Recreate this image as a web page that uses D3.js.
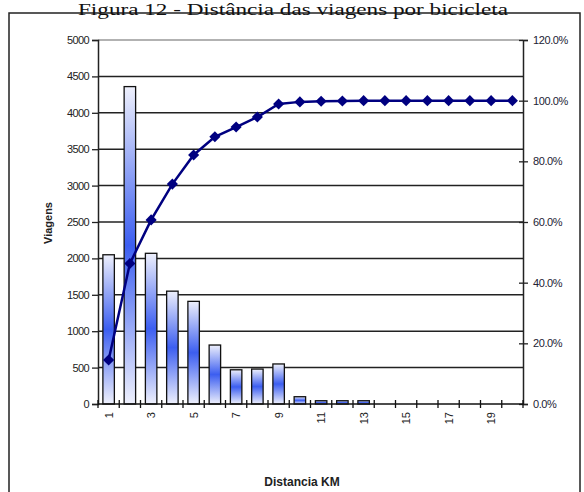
<!DOCTYPE html>
<html>
<head>
<meta charset="utf-8">
<script src="https://cdn.jsdelivr.net/npm/d3@7"></script>
<style>
  body { margin: 0; background: #fff; }
  text { font-family: Arial, "Liberation Sans", sans-serif; }
</style>
</head>
<body>
<script>
// Chart data
var distances = [1, 2, 3, 4, 5, 6, 7, 8, 9, 10, 11, 12, 13, 14, 15, 16, 17, 18, 19, 20];
var viagens = [2050, 4360, 2070, 1550, 1410, 810, 470, 480, 550, 100, 45, 45, 45, 0, 0, 0, 0, 0, 0, 0];
var acumulado = [14.5, 46.3, 60.7, 72.5, 82.1, 88.1, 91.3, 94.6, 98.9, 99.6, 99.8, 99.9, 100, 100, 100, 100, 100, 100, 100, 100];
var leftTicks = [0, 500, 1000, 1500, 2000, 2500, 3000, 3500, 4000, 4500, 5000];
var rightTicks = [0, 20, 40, 60, 80, 100, 120];
var xLabels = [1, 3, 5, 7, 9, 11, 13, 15, 17, 19];

var svgWidth = 584;
var svgHeight = 492;
var margin = { top: 40, right: 61, bottom: 88, left: 98 };
var width = svgWidth - margin.left - margin.right;
var height = svgHeight - margin.top - margin.bottom;

var svg = d3.select("body")
  .append("svg")
  .attr("width", svgWidth)
  .attr("height", svgHeight);

// gradient for the bars
var grad = svg.append("defs").append("linearGradient")
  .attr("id", "barGrad")
  .attr("x1", 0).attr("y1", 0).attr("x2", 0).attr("y2", 1);
grad.append("stop").attr("offset", "0%").attr("stop-color", "#eef0fc");
grad.append("stop").attr("offset", "50%").attr("stop-color", "#3c5ef0");
grad.append("stop").attr("offset", "100%").attr("stop-color", "#eef0fc");

// outer frame
svg.append("rect")
  .attr("x", 9).attr("y", 13)
  .attr("width", 571).attr("height", 500)
  .attr("fill", "none")
  .attr("stroke", "#222")
  .attr("stroke-width", 1.5);

// title
svg.append("text")
  .attr("x", 293)
  .attr("y", 15)
  .attr("text-anchor", "middle")
  .attr("textLength", 430)
  .attr("lengthAdjust", "spacingAndGlyphs")
  .style("font-family", "'Liberation Serif', 'Times New Roman', serif")
  .style("font-size", "16px")
  .attr("fill", "#111")
  .text("Figura 12 - Distância das viagens por bicicleta");

var chartGroup = svg.append("g")
  .attr("transform", `translate(${margin.left}, ${margin.top})`);

var x = d3.scaleBand().domain(distances).range([0, width]).paddingInner(0.46).paddingOuter(0.23);
var yLeft = d3.scaleLinear().domain([0, 5000]).range([height, 0]);
var yRight = d3.scaleLinear().domain([0, 120]).range([height, 0]);
var step = width / distances.length;

// gridlines
chartGroup.selectAll(".grid")
  .data(leftTicks.slice(1))
  .enter()
  .append("line")
  .attr("x1", 0).attr("x2", width)
  .attr("y1", d => yLeft(d)).attr("y2", d => yLeft(d))
  .attr("stroke", d => d === 5000 ? "#999" : "#222")
  .attr("stroke-width", 1.5);

// bars
chartGroup.selectAll(".bar")
  .data(viagens)
  .enter()
  .append("rect")
  .attr("x", (d, i) => x(distances[i]))
  .attr("width", x.bandwidth())
  .attr("y", d => yLeft(d))
  .attr("height", d => height - yLeft(d))
  .attr("fill", "url(#barGrad)")
  .attr("stroke", d => d > 0 ? "#111" : "none")
  .attr("stroke-width", 1.3);

// left axis
var leftAxis = d3.axisLeft(yLeft).tickValues(leftTicks).tickSize(6).tickPadding(3)
  .tickFormat(d3.format("d"));
var gL = chartGroup.append("g").call(leftAxis);
gL.select(".domain").attr("stroke", "#222").attr("stroke-width", 1.5);
gL.selectAll(".tick line").attr("stroke", "#222").attr("stroke-width", 1.3);
gL.selectAll("text").attr("fill", "#222").style("font-size", "11px").style("letter-spacing", "-0.6px");

// right axis
var rightAxis = d3.axisRight(yRight).tickValues(rightTicks).tickSize(5).tickPadding(5)
  .tickFormat(d => d.toFixed(1) + "%");
var gR = chartGroup.append("g").attr("transform", `translate(${width},0)`).call(rightAxis);
gR.select(".domain").attr("stroke", "#222").attr("stroke-width", 1.5);
gR.selectAll(".tick line").attr("x1", -4).attr("stroke", "#222").attr("stroke-width", 1.3);
gR.selectAll("text").attr("fill", "#223").style("font-size", "11px").style("letter-spacing", "-0.4px");

// x axis
chartGroup.append("line")
  .attr("x1", 0).attr("x2", width)
  .attr("y1", height).attr("y2", height)
  .attr("stroke", "#111").attr("stroke-width", 1.5);
chartGroup.selectAll(".xtick")
  .data(d3.range(distances.length + 1))
  .enter()
  .append("line")
  .attr("x1", d => d * step).attr("x2", d => d * step)
  .attr("y1", height - 4).attr("y2", height + 4)
  .attr("stroke", "#111").attr("stroke-width", 1.3);
chartGroup.selectAll(".xlabel")
  .data(xLabels)
  .enter()
  .append("text")
  .attr("transform", d => `translate(${x(d) + x.bandwidth() / 2 + 4}, ${height + 8}) rotate(-90)`)
  .attr("text-anchor", "end")
  .attr("fill", "#222")
  .style("font-size", "11px")
  .text(d => d);

// cumulative line
var line = d3.line()
  .x((d, i) => x(distances[i]) + x.bandwidth() / 2)
  .y(d => yRight(d));
chartGroup.append("path")
  .datum(acumulado)
  .attr("d", line)
  .attr("fill", "none")
  .attr("stroke", "#000080")
  .attr("stroke-width", 2.5);
chartGroup.selectAll(".marker")
  .data(acumulado)
  .enter()
  .append("path")
  .attr("d", d3.symbol().type(d3.symbolSquare).size(62))
  .attr("transform", (d, i) => `translate(${x(distances[i]) + x.bandwidth() / 2}, ${yRight(d)}) rotate(45)`)
  .attr("fill", "#000080");

// axis titles
svg.append("text")
  .attr("x", 302).attr("y", 486)
  .attr("text-anchor", "middle")
  .style("font-size", "12px").style("font-weight", "bold")
  .attr("fill", "#222")
  .text("Distancia KM");
svg.append("text")
  .attr("transform", "translate(52, 223) rotate(-90)")
  .attr("text-anchor", "middle")
  .style("font-size", "11px").style("font-weight", "bold")
  .attr("fill", "#222")
  .text("Viagens");
</script>
</body>
</html>
